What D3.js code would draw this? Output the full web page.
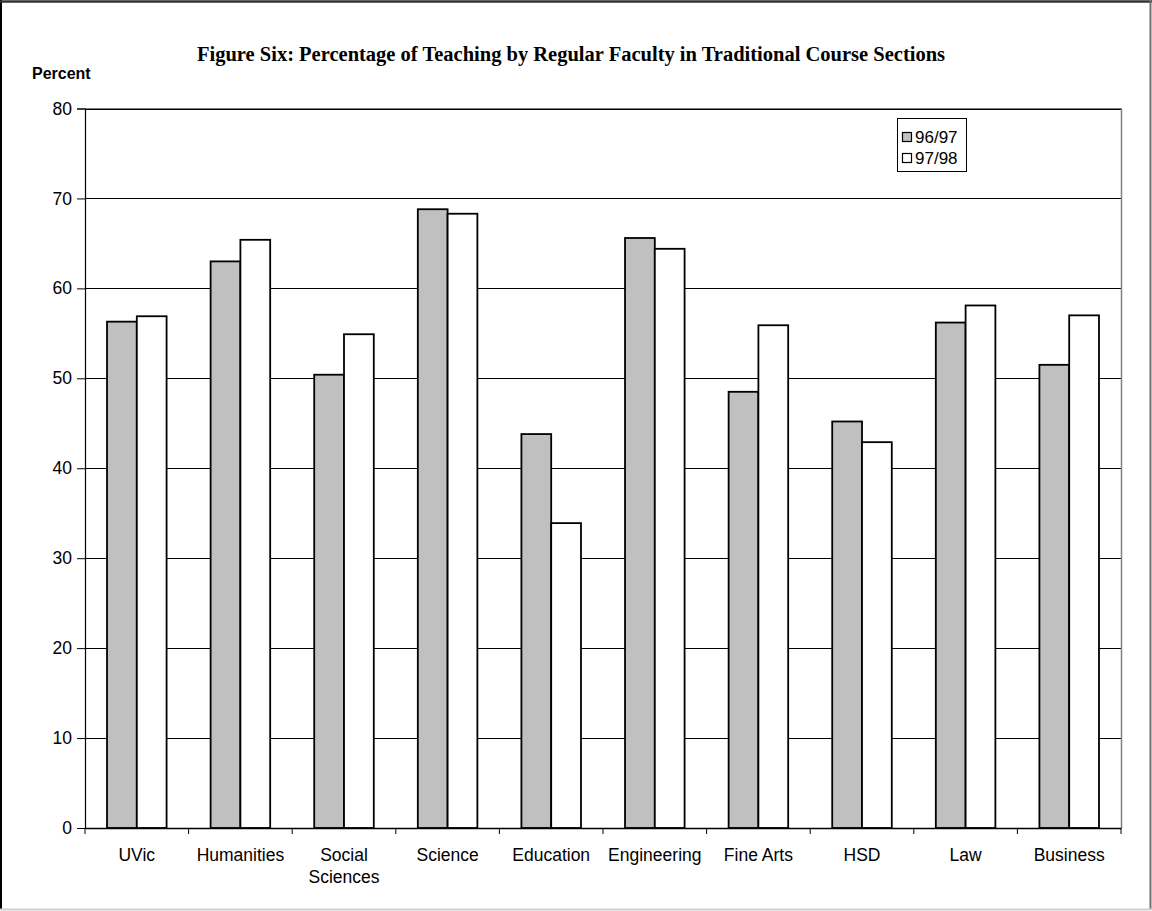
<!DOCTYPE html>
<html>
<head>
<meta charset="utf-8">
<script src="https://cdn.jsdelivr.net/npm/d3@7"></script>
<style>
  html, body { margin: 0; padding: 0; background: #fff; }
  svg { display: block; }
</style>
</head>
<body>
<svg id="chart" width="1152" height="911"></svg>
<script>
const categories = ["UVic", "Humanities", "Social Sciences", "Science", "Education", "Engineering", "Fine Arts", "HSD", "Law", "Business"];
const seriesNames = ["96/97", "97/98"];
const values9697 = [56.3, 63.0, 50.4, 68.8, 43.8, 65.6, 48.5, 45.2, 56.2, 51.5];
const values9798 = [56.9, 65.4, 54.9, 68.3, 33.9, 64.4, 55.9, 42.9, 58.1, 57.0];
const yTicks = [0, 10, 20, 30, 40, 50, 60, 70, 80];
const titleText = "Figure Six: Percentage of Teaching by Regular Faculty in Traditional Course Sections";
const yAxisTitle = "Percent";

const fills = ["#c0c0c0", "#ffffff"];
const svg = d3.select("#chart");
const sans = "Arial, 'Liberation Sans', sans-serif";
const fs = 17.5;

// outer frame
svg.append("rect").attr("x", 0).attr("y", 0).attr("width", 1152).attr("height", 911).attr("fill", "#fff");
svg.append("line").attr("x1", 1).attr("x2", 1).attr("y1", 0).attr("y2", 910).attr("stroke", "#000").attr("stroke-width", 2);
svg.append("line").attr("x1", 0).attr("x2", 1152).attr("y1", 1.5).attr("y2", 1.5).attr("stroke", "#333").attr("stroke-width", 2.5);
svg.append("line").attr("x1", 1150.5).attr("x2", 1150.5).attr("y1", 0).attr("y2", 910).attr("stroke", "#707070").attr("stroke-width", 2);
svg.append("line").attr("x1", 0).attr("x2", 1152).attr("y1", 909.5).attr("y2", 909.5).attr("stroke", "#d0d0d0").attr("stroke-width", 2);

const pLeft = 85, pRight = 1121, pTop = 108.5, pBottom = 828;

const x0 = d3.scaleBand().domain(categories).range([pLeft, pRight]).padding(0);
const groupW = x0.step() * 0.575;
const x1 = d3.scaleBand().domain(seriesNames).range([0, groupW]).padding(0);
const y = d3.scaleLinear().domain([0, 80]).range([pBottom, pTop]);

// gridlines
svg.append("g").selectAll("line").data(yTicks.filter(d => d > 0)).join("line")
  .attr("x1", pLeft).attr("x2", pRight)
  .attr("y1", d => Math.round(y(d)) + 0.5).attr("y2", d => Math.round(y(d)) + 0.5)
  .attr("stroke", "#000").attr("stroke-width", 1);

// plot area border (top / right)
svg.append("line").attr("x1", pRight + 0.5).attr("x2", pRight + 0.5)
  .attr("y1", Math.round(pTop)).attr("y2", pBottom).attr("stroke", "#808080").attr("stroke-width", 1.5);
svg.append("line").attr("x1", pLeft).attr("x2", pRight + 1)
  .attr("y1", Math.round(pTop) - 0.5).attr("y2", Math.round(pTop) - 0.5).attr("stroke", "#808080").attr("stroke-width", 1);

// bars
const data = categories.map((c, i) => ({ cat: c, vals: [values9697[i], values9798[i]] }));
const groups = svg.append("g").selectAll("g").data(data).join("g")
  .attr("transform", d => `translate(${x0(d.cat) + (x0.step() - groupW) / 2},0)`);
groups.selectAll("rect").data(d => d.vals.map((v, j) => ({ v, s: seriesNames[j], j }))).join("rect")
  .attr("x", d => x1(d.s))
  .attr("y", d => y(d.v))
  .attr("width", x1.bandwidth())
  .attr("height", d => pBottom - y(d.v))
  .attr("fill", d => fills[d.j])
  .attr("stroke", "#000").attr("stroke-width", 1.8);

// y axis
const yAxis = d3.axisLeft(y).tickValues(yTicks).tickSize(8).tickPadding(5).tickFormat(d3.format("d"));
const gy = svg.append("g").attr("transform", `translate(${pLeft},0)`).call(yAxis);
gy.select(".domain").attr("stroke", "#000").attr("stroke-width", 1.2);
gy.selectAll(".tick line").attr("stroke", "#000");
gy.selectAll(".tick text").attr("font-family", sans).attr("font-size", fs).attr("fill", "#000");

// x axis
const xAxis = d3.axisBottom(x0).tickSize(0).tickFormat("");
const gx = svg.append("g").attr("transform", `translate(0,${pBottom})`).call(xAxis);
gx.select(".domain").attr("stroke", "#000").attr("stroke-width", 1.5);
const boundaries = categories.map(c => x0(c)).concat([pRight]);
svg.append("g").selectAll("line").data(boundaries).join("line")
  .attr("x1", d => d).attr("x2", d => d).attr("y1", pBottom).attr("y2", pBottom + 6)
  .attr("stroke", "#000").attr("stroke-width", 1);

// category labels
const labels = svg.append("g").selectAll("text").data(categories).join("text")
  .attr("x", d => x0(d) + x0.step() / 2)
  .attr("y", 861)
  .attr("text-anchor", "middle")
  .attr("font-family", sans)
  .attr("font-size", fs).attr("fill", "#000");
labels.each(function(d) {
  const words = d === "Social Sciences" ? ["Social", "Sciences"] : [d];
  const t = d3.select(this);
  words.forEach((w, i) => t.append("tspan").attr("x", x0(d) + x0.step() / 2).attr("dy", i === 0 ? 0 : 22).text(w));
});

// title
svg.append("text").attr("x", 571).attr("y", 61).attr("text-anchor", "middle")
  .attr("font-family", "'Times New Roman', 'Liberation Serif', serif")
  .attr("font-weight", "bold").attr("font-size", 20.5).attr("fill", "#000").text(titleText);

// y axis title
svg.append("text").attr("x", 32).attr("y", 79)
  .attr("font-family", sans)
  .attr("font-weight", "bold").attr("font-size", 16).attr("fill", "#000").text(yAxisTitle);

// legend
const lg = svg.append("g").attr("transform", "translate(897,118)");
lg.append("rect").attr("x", 0.5).attr("y", 0.5).attr("width", 69).attr("height", 53)
  .attr("fill", "#fff").attr("stroke", "#000").attr("stroke-width", 1);
seriesNames.forEach((s, i) => {
  const cy = 19 + i * 21;
  lg.append("rect").attr("x", 5.5).attr("y", cy - 4.5).attr("width", 9).attr("height", 9)
    .attr("fill", fills[i]).attr("stroke", "#000").attr("stroke-width", 1.2);
  lg.append("text").attr("x", 18).attr("y", cy + 6)
    .attr("font-family", sans)
    .attr("font-size", 17).attr("fill", "#000").text(s);
});
</script>
</body>
</html>
